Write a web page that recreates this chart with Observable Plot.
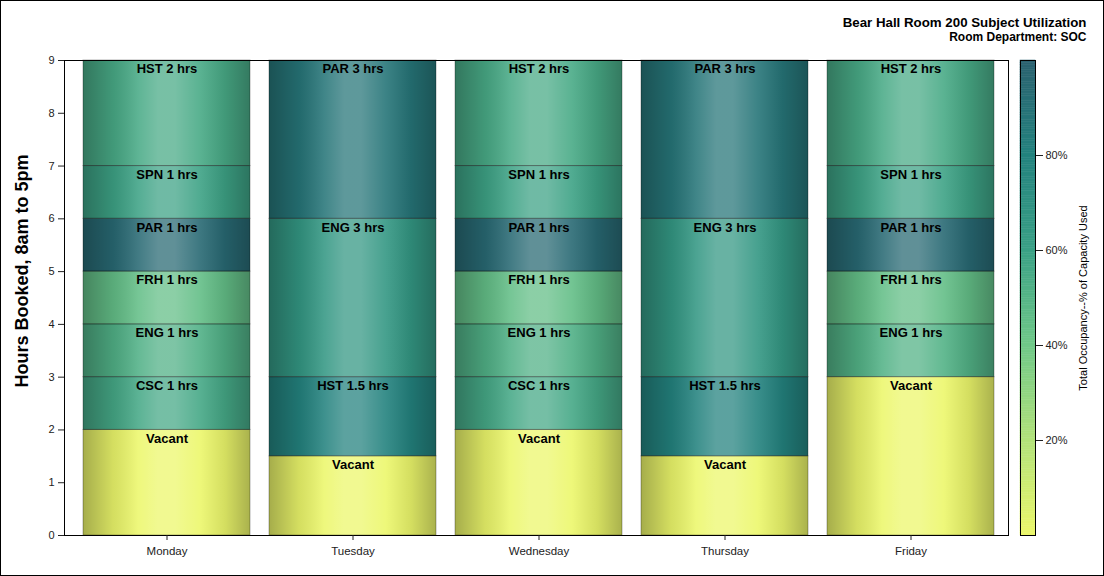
<!DOCTYPE html>
<html>
<head>
<meta charset="utf-8">
<script src="https://cdn.jsdelivr.net/npm/d3@7"></script>
<script src="https://cdn.jsdelivr.net/npm/@observablehq/plot@0.6"></script>
<style>
  html, body { margin: 0; padding: 0; background: white; }
  #wrap { position: relative; width: 1104px; height: 576px; overflow: hidden; background: white; }
  #wrap svg { position: absolute; top: 0; }
  #border { position: absolute; left: 0; top: 0; width: 1102px; height: 574px; border: 1px solid black; pointer-events: none; }
</style>
</head>
<body>
<div id="wrap"><div id="border"></div></div>
<script>
// ---- data ----
const days = ["Monday", "Tuesday", "Wednesday", "Thursday", "Friday"];
const segDay = [
  "Monday","Monday","Monday","Monday","Monday","Monday","Monday",
  "Tuesday","Tuesday","Tuesday","Tuesday",
  "Wednesday","Wednesday","Wednesday","Wednesday","Wednesday","Wednesday","Wednesday",
  "Thursday","Thursday","Thursday","Thursday",
  "Friday","Friday","Friday","Friday","Friday","Friday"
];
const segLabel = [
  "Vacant","CSC 1 hrs","ENG 1 hrs","FRH 1 hrs","PAR 1 hrs","SPN 1 hrs","HST 2 hrs",
  "Vacant","HST 1.5 hrs","ENG 3 hrs","PAR 3 hrs",
  "Vacant","CSC 1 hrs","ENG 1 hrs","FRH 1 hrs","PAR 1 hrs","SPN 1 hrs","HST 2 hrs",
  "Vacant","HST 1.5 hrs","ENG 3 hrs","PAR 3 hrs",
  "Vacant","ENG 1 hrs","FRH 1 hrs","PAR 1 hrs","SPN 1 hrs","HST 2 hrs"
];
const segHours = [
  2, 1, 1, 1, 1, 1, 2,
  1.5, 1.5, 3, 3,
  2, 1, 1, 1, 1, 1, 2,
  1.5, 1.5, 3, 3,
  3, 1, 1, 1, 1, 2
];
const segOccupancy = [
  0, 56, 52, 45, 95, 59, 55,
  0, 80, 66, 88,
  0, 56, 52, 45, 95, 59, 55,
  0, 80, 66, 88,
  0, 51, 45, 95, 59, 55
];
const yTicks = [0,1,2,3,4,5,6,7,8,9];
const legendTicks = [20, 40, 60, 80];
const rampStops = [0, 20, 40, 60, 80, 100];
const rampColors = ["#ecf76b", "#b2e27a", "#70c888", "#3aa085", "#23827e", "#2a616f"];
const titleText = "Bear Hall Room 200 Subject Utilization";
const subtitleText = "Room Department: SOC";
const yLabel = "Hours Booked, 8am to 5pm";
const legendLabel = "Total Occupancy--% of Capacity Used";

const table = segDay.map((d, i) => ({day: d, label: segLabel[i], hours: segHours[i], occ: segOccupancy[i]}));

const font = "'Liberation Sans', Arial, Helvetica, sans-serif";
const colorScale = {type: "linear", domain: rampStops, range: rampColors, interpolate: "rgb"};

const chart = Plot.plot({
  width: 1104, height: 576,
  marginLeft: 64, marginRight: 96, marginTop: 60, marginBottom: 41,
  style: {fontFamily: font, fontSize: "11px", color: "#222", background: "transparent"},
  x: {domain: days, paddingInner: 0.1, paddingOuter: 0.05, insetLeft: 9, insetRight: 4, label: null},
  y: {domain: [0, 9], label: null},
  color: colorScale,
  marks: [
    Plot.barY(table, {x: "day", y: "hours", fill: "occ"}),
    Plot.barY(table, {x: "day", y: "hours", fill: "url(#shade)", stroke: "#000", strokeOpacity: 0.3, strokeWidth: 1}),
    Plot.text(table, Plot.stackY2({x: "day", y: "hours", text: "label", lineAnchor: "top", dy: 3.5,
      fontWeight: "bold", fontSize: 13, fill: "black"})),
    Plot.frame({stroke: "black"}),
    Plot.axisX({tickSize: 5, tickPadding: 6, fontSize: 11.5, label: null}),
    Plot.axisY({ticks: yTicks, tickSize: 6, tickPadding: 4, fontSize: 11, label: null}),
    Plot.text([yLabel], {frameAnchor: "left", rotate: -90, dx: -42, dy: -27, textAnchor: "middle", lineAnchor: "middle",
      fontWeight: "bold", fontSize: 18, fill: "black"}),
    Plot.text([titleText], {frameAnchor: "top-right", dx: 78, dy: -37.5, textAnchor: "end", lineAnchor: "middle",
      fontWeight: "bold", fontSize: 13.3, fill: "black"}),
    Plot.text([subtitleText], {frameAnchor: "top-right", dx: 78, dy: -23.5, textAnchor: "end", lineAnchor: "middle",
      fontWeight: "bold", fontSize: 12, fill: "black"})
  ]
});

// horizontal shading gradient for the bar "skin"
const defs = d3.select(chart).insert("defs", ":first-child");
const grad = defs.append("linearGradient").attr("id", "shade")
  .attr("x1", "0").attr("x2", "1").attr("y1", "0").attr("y2", "0");
[[0, "#000", 0.3], [0.18, "#000", 0.1], [0.33, "#fff", 0.12], [0.45, "#fff", 0.26],
 [0.55, "#fff", 0.26], [0.7, "#fff", 0.1], [0.85, "#000", 0.1], [1, "#000", 0.28]]
  .forEach(([o, c, a]) => grad.append("stop").attr("offset", o).attr("stop-color", c).attr("stop-opacity", a));

chart.style.left = "0px";
document.getElementById("wrap").appendChild(chart);

// colour legend
const legendSteps = d3.range(0, 100, 0.5);
const legend = Plot.plot({
  width: 94, height: 576,
  marginLeft: 10, marginRight: 69, marginTop: 60, marginBottom: 41,
  style: {fontFamily: font, fontSize: "11px", color: "#222", background: "transparent"},
  x: {domain: [0, 1], axis: null},
  y: {domain: [0, 100], label: null},
  color: colorScale,
  marks: [
    Plot.rect(legendSteps, {x1: 0, x2: 1, y1: d => d, y2: d => d + 0.5, fill: d => d + 0.25, stroke: d => d + 0.25, strokeWidth: 0.5}),
    Plot.frame({stroke: "black"}),
    Plot.axisY({anchor: "right", ticks: legendTicks, tickFormat: d => d + "%", tickSize: 7, tickPadding: 3, fontSize: 11, label: null}),
    Plot.text([legendLabel], {frameAnchor: "right", rotate: -90, dx: 48, textAnchor: "middle", lineAnchor: "middle",
      fontSize: 11, fill: "black"})
  ]
});
legend.style.left = "1010px";
document.getElementById("wrap").appendChild(legend);
</script>
</body>
</html>
